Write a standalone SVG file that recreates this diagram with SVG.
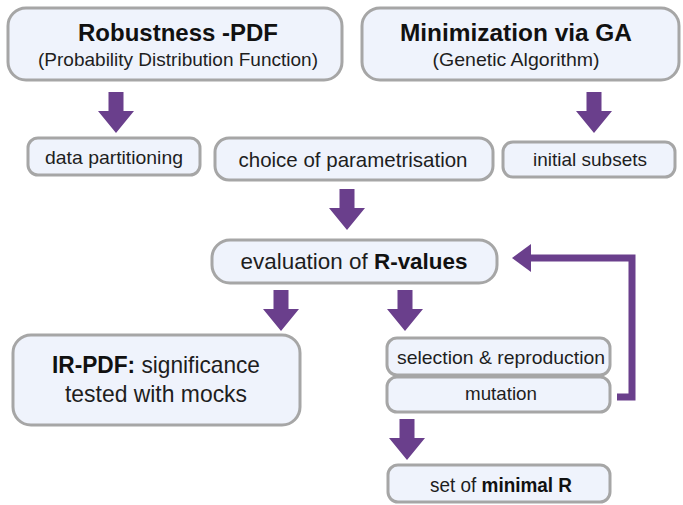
<svg xmlns="http://www.w3.org/2000/svg" width="683" height="505" viewBox="0 0 683 505">
<style>
.box{fill:#eff3fc;stroke:#a6a6a6;stroke-width:3}
text{font-family:"Liberation Sans",Arial,sans-serif;fill:#1e1e1e;text-anchor:middle}
.b{font-weight:bold;fill:#111}
.arr{fill:#6a3f8c}
</style>
<defs>
<path id="down" d="M-7.5,0 H7.5 V19 H18 L0,41 L-18,19 H-7.5 Z"/>
</defs>
<rect width="683" height="505" fill="#fff"/>
<g id="robustness">
<rect class="box" x="8" y="8" width="334" height="72" rx="18"/>
<text x="178" y="41" class="b" font-size="24" textLength="200" lengthAdjust="spacingAndGlyphs">Robustness -PDF</text>
<text x="178" y="66" font-size="19" textLength="280" lengthAdjust="spacingAndGlyphs">(Probability Distribution Function)</text>
</g>
<g id="minimization">
<rect class="box" x="362" y="8" width="317" height="72" rx="18"/>
<text x="516" y="41" class="b" font-size="24" textLength="232" lengthAdjust="spacingAndGlyphs">Minimization via GA</text>
<text x="516" y="66" font-size="19" textLength="167" lengthAdjust="spacingAndGlyphs">(Genetic Algorithm)</text>
</g>
<g id="data-partitioning">
<rect class="box" x="28" y="138" width="172" height="37" rx="10"/>
<text x="114" y="164" font-size="19" textLength="138" lengthAdjust="spacingAndGlyphs">data partitioning</text>
</g>
<g id="choice">
<rect class="box" x="215" y="138" width="278" height="42" rx="14"/>
<text x="353" y="167" font-size="21" textLength="229" lengthAdjust="spacingAndGlyphs">choice of parametrisation</text>
</g>
<g id="initial-subsets">
<rect class="box" x="503" y="142" width="172" height="35" rx="10"/>
<text x="590" y="166" font-size="19" textLength="114" lengthAdjust="spacingAndGlyphs">initial subsets</text>
</g>
<g id="evaluation">
<rect class="box" x="212" y="240" width="285" height="43" rx="18"/>
<text x="354" y="269" font-size="22" textLength="227" lengthAdjust="spacingAndGlyphs">evaluation of <tspan class="b">R-values</tspan></text>
</g>
<g id="ir-pdf">
<rect class="box" x="13" y="335" width="287" height="90" rx="18"/>
<text x="156" y="373" font-size="24" textLength="208" lengthAdjust="spacingAndGlyphs"><tspan class="b">IR-PDF:</tspan> significance</text>
<text x="156" y="402" font-size="24" textLength="182" lengthAdjust="spacingAndGlyphs">tested with mocks</text>
</g>
<g id="selection">
<rect class="box" x="387" y="338" width="223" height="37" rx="10"/>
<text x="501" y="364" font-size="19" textLength="208" lengthAdjust="spacingAndGlyphs">selection &amp; reproduction</text>
</g>
<g id="mutation">
<rect class="box" x="387" y="377" width="223" height="35" rx="10"/>
<text x="501" y="400" font-size="19" textLength="72" lengthAdjust="spacingAndGlyphs">mutation</text>
</g>
<g id="minimal-r">
<rect class="box" x="388" y="465" width="222" height="37" rx="10"/>
<text x="501" y="492" font-size="20" textLength="142" lengthAdjust="spacingAndGlyphs">set of <tspan class="b">minimal R</tspan></text>
</g>
<g id="connectors" class="arr">
<use href="#down" x="116" y="92"/>
<use href="#down" x="594" y="92"/>
<use href="#down" x="347" y="189"/>
<use href="#down" x="281" y="290"/>
<use href="#down" x="405" y="290"/>
<use href="#down" x="407" y="419"/>
<path d="M617,397 H632 V258 H528" fill="none" stroke="#6a3f8c" stroke-width="7"/>
<path d="M531,244 L512,258 L531,272 Z"/>
</g>
</svg>
